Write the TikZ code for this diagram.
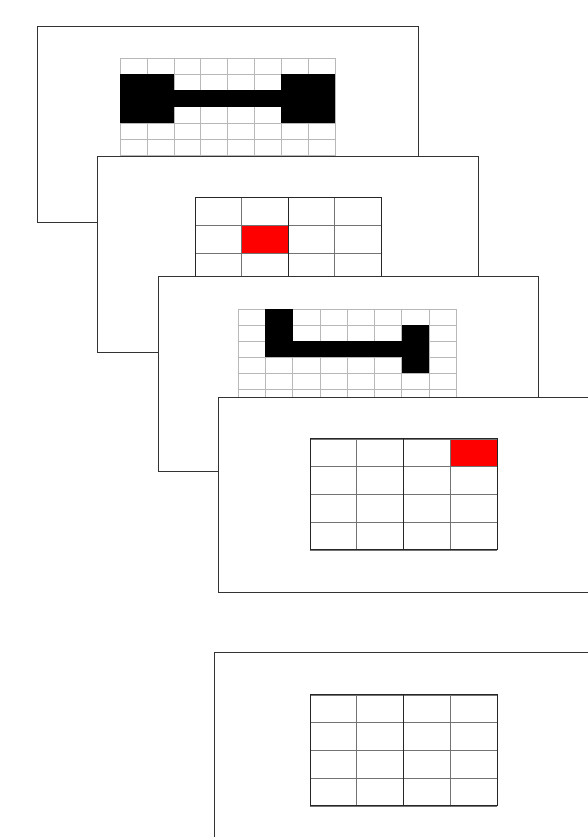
\documentclass[tikz,border=0pt]{standalone}
\usepackage{tikz}

\begin{document}
\begin{tikzpicture}[
    x=1pt, y=1pt,
    frame/.style={rectangle, draw=black!80, fill=white, line width=0.9pt, minimum width=381pt, minimum height=196pt, anchor=north west, inner sep=0pt},
    finegrid/.style={draw=black!28, line width=0.5pt},
    coarsegrid/.style={draw=black!55, line width=0.7pt},
    gridborder/.style={draw=black!85, line width=1pt},
    blackcell/.style={fill=black},
    redcell/.style={fill=red}
]

\useasboundingbox (0,0) rectangle (588,837);
\clip (0,0) rectangle (588,837);

% Frame 1: fine grid with dumbbell
\node[frame] (P1) at (37,811) {};
\begin{scope}[shift={(120,665.6)}, x=26.9pt, y=16.2pt]
  \draw[finegrid, xstep=26.9pt, ystep=16.2pt] (0,0) grid (8,7);
  \draw[finegrid] (0,0) rectangle (8,7);
  \fill[blackcell] (0,3) rectangle (2,6);
  \fill[blackcell] (2,4) rectangle (6,5);
  \fill[blackcell] (6,3) rectangle (8,6);
\end{scope}

% Frame 2: coarse grid, red cell
\node[frame] (P2) at (97,681) {};
\begin{scope}[shift={(195,528.5)}, x=46.5pt, y=27.7pt]
  \fill[redcell] (1,2) rectangle (2,3);
  \draw[coarsegrid, xstep=46.5pt, ystep=27.7pt] (0,0) grid (4,4);
  \draw[gridborder] (2,0) -- (2,4);
  \draw[gridborder] (0,0) rectangle (4,4);
\end{scope}

% Frame 3: fine grid with hook
\node[frame, minimum width=380pt, minimum height=195pt] (P3) at (158,561) {};
\begin{scope}[shift={(238,415.3)}, x=27.25pt, y=16.1pt]
  \draw[finegrid, xstep=27.25pt, ystep=16.1pt] (0,0) grid (8,7);
  \draw[finegrid] (0,0) rectangle (8,7);
  \fill[blackcell] (1,4) rectangle (2,7);
  \fill[blackcell] (1,4) rectangle (7,5);
  \fill[blackcell] (6,3) rectangle (7,6);
\end{scope}

% Frame 4: coarse grid, red corner cell
\node[frame, minimum height=195pt] (P4) at (218,440) {};
\begin{scope}[shift={(310,287)}, x=46.75pt, y=27.75pt]
  \fill[redcell] (3,3) rectangle (4,4);
  \draw[coarsegrid, xstep=46.75pt, ystep=27.75pt] (0,0) grid (4,4);
  \draw[gridborder] (2,0) -- (2,4);
  \draw[gridborder] (0,0) rectangle (4,4);
\end{scope}

% Frame 5: empty coarse grid
\node[frame] (P5) at (214,185) {};
\begin{scope}[shift={(310,31)}, x=46.75pt, y=27.75pt]
  \draw[coarsegrid, xstep=46.75pt, ystep=27.75pt] (0,0) grid (4,4);
  \draw[gridborder] (2,0) -- (2,4);
  \draw[gridborder] (0,0) rectangle (4,4);
\end{scope}

\end{tikzpicture}
\end{document}
